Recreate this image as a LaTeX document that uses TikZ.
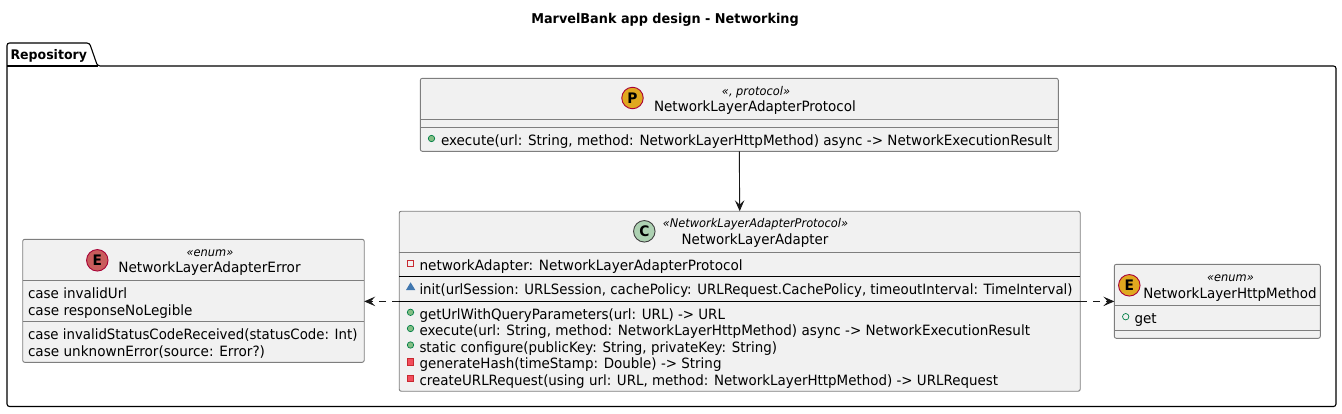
\documentclass[tikz,border=0pt]{standalone}
\usepackage{fontspec}
\usepackage{graphicx}
\usetikzlibrary{arrows.meta}
\setmainfont{DejaVu Sans}
\newfontfamily\ui[FakeStretch=0.95]{DejaVu Sans}
\newcommand{\fitw}[2]{\resizebox{#1pt}{\height}{#2}}
\definecolor{boxfill}{HTML}{F1F1F1}
\definecolor{boxline}{HTML}{7E7E7E}
\definecolor{spotC}{HTML}{ADD1B2}
\definecolor{enumred}{HTML}{C95C5C}
\definecolor{amber}{HTML}{E0A81F}
\definecolor{crimson}{HTML}{A80036}
\definecolor{pubgreen}{HTML}{84BE84}
\definecolor{publine}{HTML}{038048}
\definecolor{privred}{HTML}{F24D5C}
\definecolor{privline}{HTML}{C82930}
\definecolor{pkgblue}{HTML}{4177AF}
\tikzset{
  x=1pt,y=-1pt,
  every node/.style={inner sep=0pt,outer sep=0pt,font=\ui\fontsize{14.2}{16}\selectfont},
  umlbox/.style={draw=boxline,fill=boxfill,line width=0.9pt,rounded corners=2pt,anchor=north west},
  sep/.style={draw=boxline,line width=0.9pt},
  blacksep/.style={draw=black,line width=0.9pt},
  stereo/.style={font=\ui\itshape\fontsize{12}{13}\selectfont,anchor=base},
  cname/.style={anchor=base},
  row/.style={anchor=base west},
  spot/.style={circle,minimum size=21.5pt,draw=crimson,line width=0.9pt,font=\ui\bfseries\fontsize{14.5}{16}\selectfont},
  spotc/.style={spot,draw=black!75},
  pub/.style={circle,minimum size=6.4pt,draw=publine,fill=pubgreen,line width=0.7pt},
  pubo/.style={circle,minimum size=6.4pt,draw=publine,line width=0.7pt},
  priv/.style={rectangle,minimum size=6.4pt,draw=privline,fill=privred,line width=0.7pt},
  privo/.style={rectangle,minimum size=6.4pt,draw=privline,line width=0.7pt},
  link/.style={draw=black!90,line width=0.9pt,-{Stealth[length=11pt,width=9.5pt,inset=4.5pt]}},
  dashlink/.style={link,dash pattern=on 7pt off 6pt},
}
\begin{document}
\begin{tikzpicture}
\useasboundingbox (0,0) rectangle (1342,413);
\node[font=\ui\bfseries\fontsize{13.5}{15}\selectfont,anchor=base] (title) at (665,23.5) {MarvelBank app design - Networking};
% package
\draw[black,line width=1.1pt,rounded corners=2.5pt] (7,66) -- (7,43) -- (89.5,43) -- (97.5,66) -- (1336,66) -- (1336,406.5) -- (7,406.5) -- cycle;
\draw[black,line width=1.1pt] (7,66) -- (97.5,66);
\node[font=\ui\bfseries\fontsize{13.2}{16}\selectfont,anchor=base west] (pkg) at (10.5,59) {Repository};
% protocol
\node[umlbox,minimum width=638pt,minimum height=73pt] (proto) at (420.3,78.3) {};
\draw[sep] (proto.west |- 0,119.3) -- (proto.east |- 0,119.3);
\draw[sep] (proto.west |- 0,127.5) -- (proto.east |- 0,127.5);
\node[spot,fill=amber] (pspot) at (632.5,98) {P};
\node[stereo] (pst) at (756,95) {«, protocol»};
\node[cname] (pname) at (755,111) {NetworkLayerAdapterProtocol};
\node[pub] (pm0) at (431.5,138.5) {};
\node[row] (pm) at (441,145) {\fitw{611}{execute(url: String, method: NetworkLayerHttpMethod) async -> NetworkExecutionResult}};
% adapter
\node[umlbox,minimum width=681pt,minimum height=180pt] (adapter) at (399.2,211.2) {};
\draw[sep] (adapter.west |- 0,252.3) -- (adapter.east |- 0,252.3);
\draw[blacksep] (adapter.west |- 0,276) -- (adapter.east |- 0,276);
\draw[blacksep] (adapter.west |- 0,301.4) -- (adapter.east |- 0,301.4);
\node[spotc,fill=spotC] (aspot) at (644.3,231.3) {C};
\node[stereo] (ast) at (755.5,227.7) {«NetworkLayerAdapterProtocol»};
\node[cname] (aname) at (755,244.3) {\fitw{146.6}{NetworkLayerAdapter}};
\node[privo] (a0) at (410.5,263.5) {};
\node[row] (a0t) at (419.5,270) {\fitw{323.2}{networkAdapter: NetworkLayerAdapterProtocol}};
\fill[pkgblue] (406,290) -- (415.3,290) -- (410.6,282.3) -- cycle;
\node[row] (a1t) at (419.5,294) {\fitw{653}{init(urlSession: URLSession, cachePolicy: URLRequest.CachePolicy, timeoutInterval: TimeInterval)}};
\node[pub] (a2) at (410.5,312.3) {};
\node[row] (a2t) at (419.5,319) {\fitw{305.5}{getUrlWithQueryParameters(url: URL) -> URL}};
\node[pub] (a3) at (410.5,328.5) {};
\node[row] (a3t) at (419.5,335.5) {\fitw{610.5}{execute(url: String, method: NetworkLayerHttpMethod) async -> NetworkExecutionResult}};
\node[pub] (a4) at (410.5,345) {};
\node[row] (a4t) at (419.5,352) {\fitw{357.5}{static configure(publicKey: String, privateKey: String)}};
\node[priv] (a5) at (410.5,361.7) {};
\node[row] (a5t) at (419.5,368.5) {\fitw{302}{generateHash(timeStamp: Double) -> String}};
\node[priv] (a6) at (410.5,378.3) {};
\node[row] (a6t) at (419.5,385) {\fitw{578.5}{createURLRequest(using url: URL, method: NetworkLayerHttpMethod) -> URLRequest}};
% error enum
\node[umlbox,minimum width=341.5pt,minimum height=123pt] (err) at (22.7,239.3) {};
\draw[sep] (err.west |- 0,280.7) -- (err.east |- 0,280.7);
\draw[sep] (err.west |- 0,321.3) -- (err.east |- 0,321.3);
\node[spot,fill=enumred] (espot) at (97.3,260.3) {E};
\node[stereo] (est) at (210,256.7) {«enum»};
\node[cname] (ename) at (209.5,272.7) {\fitw{182.3}{NetworkLayerAdapterError}};
\node[row] (e1) at (28,298) {case invalidUrl};
\node[row] (e2) at (28,315) {\fitw{164.5}{case responseNoLegible}};
\node[row] (e3) at (28,339) {\fitw{329.5}{case invalidStatusCodeReceived(statusCode: Int)}};
\node[row] (e4) at (28,356) {\fitw{237}{case unknownError(source: Error?)}};
% http enum
\node[umlbox,minimum width=206pt,minimum height=74pt] (http) at (1114.3,264.3) {};
\draw[sep] (http.west |- 0,305.5) -- (http.east |- 0,305.5);
\draw[sep] (http.west |- 0,330.3) -- (http.east |- 0,330.3);
\node[spot,fill=amber] (hspot) at (1129.3,285.3) {E};
\node[stereo] (hst) at (1230.5,281.7) {«enum»};
\node[cname] (hname) at (1230,298) {\fitw{173.3}{NetworkLayerHttpMethod}};
\node[pubo] (h0) at (1125.7,316.7) {};
\node[row] (h0t) at (1134.5,323) {get};
% connectors
\draw[link] (proto.south) -- (adapter.north);
\draw[dashlink] (adapter.west |- 0,301.4) -- (err.east |- 0,301.4);
\draw[dashlink] (adapter.east |- 0,301.4) -- (http.west |- 0,301.4);
\end{tikzpicture}
\end{document}
